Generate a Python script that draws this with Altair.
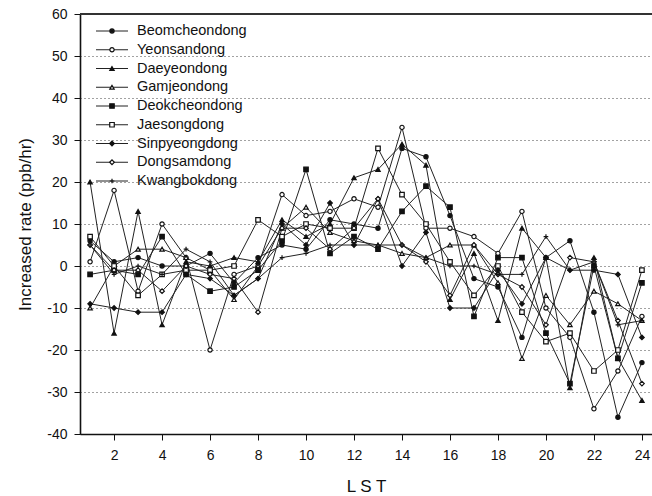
import altair as alt
import pandas as pd

hours = list(range(1, 25))
names = ["Beomcheondong", "Yeonsandong", "Daeyeondong", "Gamjeondong", "Deokcheondong",
         "Jaesongdong", "Sinpyeongdong", "Dongsamdong", "Kwangbokdong"]

beom = [6, 1, 2, 0, 0, 3, -4, 2, 5, 4, 11, 10, 9, 28, 26, 12, -3, -5, -17, 2, 6, -11, -36, -23]
yeon = [1, 18, -6, 10, 2, -20, -2, 0, 17, 12, 13, 16, 14, 33, 9, 9, 7, 3, 13, -10, -17, -34, -25, -12]
daeyeon = [20, -16, 13, -14, 1, 0, 2, 1, 11, 7, 10, 21, 23, 29, 24, -8, 3, -13, 9, 2, -29, 2, -22, -32]
gamjeon = [-10, 0, 4, 4, 2, -1, -8, 0, 9, 14, 8, 6, 5, 3, 2, 5, 5, -4, -22, -7, -14, -6, -9, -13]
deok = [-2, -1, -2, 7, -2, -6, -5, -1, 6, 23, 3, 7, 4, 13, 19, 14, -12, 2, 2, -16, -28, 0, -22, -4]
jaesong = [7, 0, -7, -2, -1, -1, 0, 11, 7, 10, 9, 9, 28, 17, 10, 1, -7, 0, -11, -18, -16, -25, -20, -1]
sinpyeong = [-9, -10, -11, -11, -2, -3, -7, -3, 10, 5, 15, 5, 16, 0, 8, -10, -10, -1, -9, 2, -1, -1, -2, -17]
dongsam = [5, -1, -1, -6, 0, -2, -3, -11, 9, 9, 4, 9, 16, 5, 1, -7, 5, -2, -5, -14, 2, 1, -13, -28]
kwang = [5, -2, 0, -2, 4, 1, -7, -3, 2, 3, 5, 5, 5, 5, 2, 0, 0, -2, -2, 7, -1, 1, -14, -13]

series_values = [beom, yeon, daeyeon, gamjeon, deok, jaesong, sinpyeong, dongsam, kwang]
y_ticks = list(range(-40, 61, 10))
x_ticks = list(range(2, 25, 2))

rows = []
for name, vals in zip(names, series_values):
    for h, v in zip(hours, vals):
        rows.append({"series": name, "hour": h, "value": v})
df = pd.DataFrame(rows)
leg_df = pd.DataFrame({"series": names})

INK = "#111111"
FONT = "Liberation Sans"
cross_path = "M-1,0L1,0M0,-1L0,1"
shape_scale = alt.Scale(domain=names, range=["circle", "circle", "triangle-up", "triangle-up", "square",
                                             "square", "diamond", "diamond", cross_path])
fill_scale = alt.Scale(domain=names, range=[INK, "white", INK, "white", INK, "white", INK, "white", "transparent"])
size_scale = alt.Scale(domain=names, range=[18, 22, 24, 26, 22, 26, 26, 28, 110])

xs = alt.X("hour:Q", scale=alt.Scale(domain=[0.58, 24.42], nice=False, zero=False),
           axis=alt.Axis(values=x_ticks, title="L S T", grid=False, tickSize=6, labelPadding=8,
                         titlePadding=16, titleFontSize=17, titleFontWeight="normal",
                         labelFontSize=14, domainWidth=1.6, domainColor=INK, tickColor=INK,
                         labelColor=INK, titleColor=INK, labelFont=FONT, titleFont=FONT))
ys = alt.Y("value:Q", scale=alt.Scale(domain=[-40, 60], nice=False),
           axis=alt.Axis(values=y_ticks, title="Increased rate (ppb/hr)", grid=True,
                         labelExpr="toString(datum.value)",
                         gridDash=[1, 3], gridColor="#444", gridWidth=1, tickSize=6,
                         labelPadding=7, titlePadding=12, titleFontSize=17, titleFontWeight="normal",
                         labelFontSize=14, domainWidth=1.6, domainColor=INK, tickColor=INK,
                         labelColor=INK, titleColor=INK, labelFont=FONT, titleFont=FONT))

base = alt.Chart(df)
lines = base.mark_line(color="#222", strokeWidth=1).encode(x=xs, y=ys, detail="series:N")
points = base.mark_point(filled=True, stroke=INK, strokeWidth=1.2, opacity=1).encode(
    x=xs, y=ys,
    shape=alt.Shape("series:N", scale=shape_scale, legend=None),
    fill=alt.Fill("series:N", scale=fill_scale, legend=None),
    size=alt.Size("series:N", scale=size_scale, legend=None),
)
topline = alt.Chart(df).mark_rule(color="#333", strokeWidth=2).encode(y=alt.datum(60))
data_layer = alt.layer(lines, points, topline)

ly = alt.Y("series:N", scale=alt.Scale(type="point", domain=names, range=[17, 167], padding=0), axis=None)
leg = alt.Chart(leg_df)
leg_line = leg.mark_rule(color="#222", strokeWidth=1).encode(y=ly, x=alt.value(16), x2=alt.value(48))
leg_pts = leg.mark_point(filled=True, stroke=INK, strokeWidth=1.2, opacity=1).encode(
    y=ly, x=alt.value(32),
    shape=alt.Shape("series:N", scale=shape_scale, legend=None),
    fill=alt.Fill("series:N", scale=fill_scale, legend=None),
    size=alt.Size("series:N", scale=size_scale, legend=None),
)
leg_text = leg.mark_text(align="left", baseline="middle", fontSize=14.5, font=FONT, color=INK).encode(
    y=ly, x=alt.value(57), text="series:N")
legend_layer = alt.layer(leg_line, leg_pts, leg_text)

chart = alt.layer(data_layer, legend_layer).resolve_scale(y="independent").properties(
    width=572, height=420,
    autosize=alt.AutoSizeParams(type="none"),
    padding={"left": 80, "top": 14, "right": 0, "bottom": 62},
).configure_view(stroke=None).configure(background="white")

chart.save("out.html", embed_options={"renderer": "svg", "actions": False})
